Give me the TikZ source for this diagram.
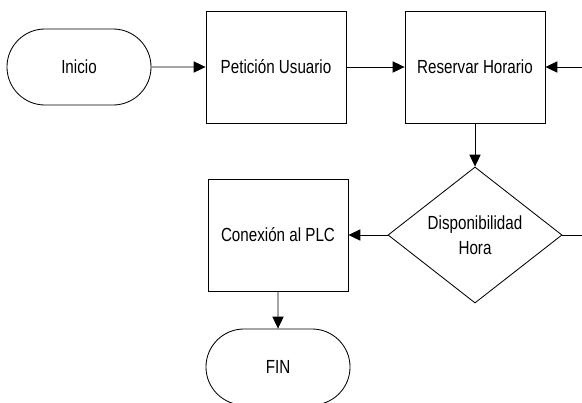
\documentclass[tikz,border=0pt]{standalone}
\usepackage{fontspec}
\setmainfont{Liberation Sans}
\newfontfamily\schmal[FakeStretch=0.8]{Liberation Sans}
\usetikzlibrary{shapes.geometric,shapes.misc,arrows.meta}

\begin{document}
\begin{tikzpicture}[x=0.025cm,y=-0.025cm,
		line width=0.6pt,
		every node/.style={font=\schmal\fontsize{13.5pt}{18pt}\selectfont,align=center,inner sep=0pt},
		terminal/.style={rounded rectangle,draw,minimum width=3.6cm,minimum height=1.9cm},
		proceso/.style={rectangle,draw,minimum width=3.5cm,minimum height=2.8cm},
		decision/.style={diamond,draw,aspect=1.28,minimum width=4.35cm,minimum height=3.4cm},
		flecha/.style={-{Triangle[length=8.5pt,width=8pt]}}]
		
		\useasboundingbox (0,0) rectangle (582,402);
		
		%bloques
		\node[terminal] (inicio) at (79,67) {Inicio};
		\node[proceso] (peticion) at (276,67) {Petición Usuario};
		\node[proceso] (reservar) at (475,67) {Reservar Horario};
		\node[decision] (disp) at (475,235) {Disponibilidad\\Hora};
		\node[proceso] (conexion) at (278,235) {Conexión al PLC};
		\node[terminal] (fin) at (278,367) {FIN};
		
		%rand rechts
		\coordinate (rechts1) at (582,67);
		\coordinate (rechts2) at (582,235);
		
		%pfeile
		\draw[flecha] (inicio) -- (peticion);
		\draw[flecha] (peticion) -- (reservar);
		\draw[flecha] (rechts1) -- (reservar);
		\draw[flecha] (reservar) -- (disp);
		\draw (disp) -- (rechts2);
		\draw[flecha] (disp) -- (conexion);
		\draw[flecha] (conexion) -- (fin);
		
	\end{tikzpicture}
\end{document}
